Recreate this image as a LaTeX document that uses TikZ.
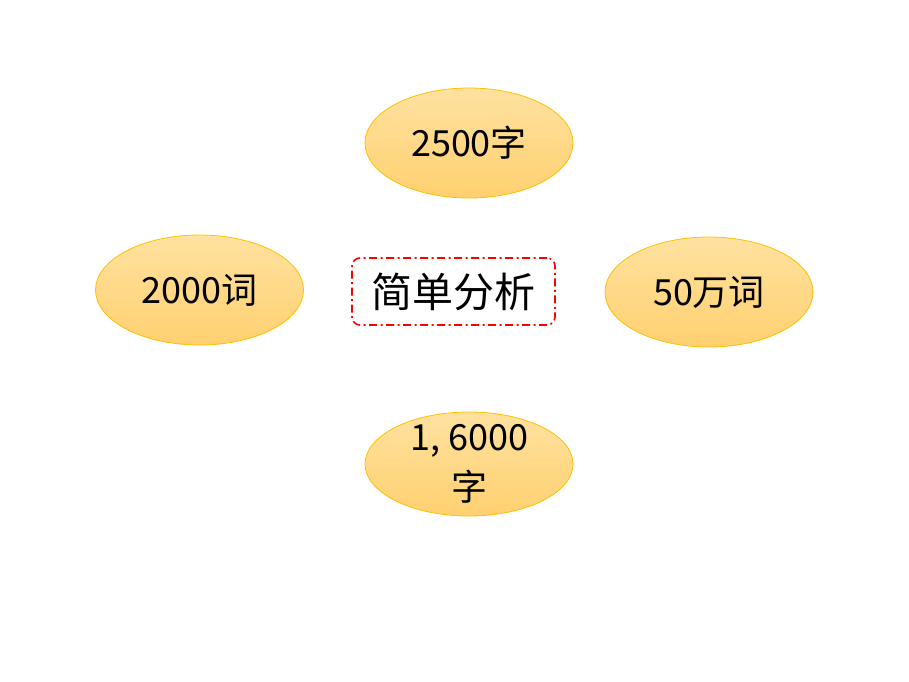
\documentclass[tikz,border=0pt]{standalone}
\usepackage{fontspec}
\setmainfont{Noto Sans CJK SC}
\usepackage{tikz}
\usetikzlibrary{shapes.geometric}
\definecolor{ellTop}{HTML}{FFE2A0}
\definecolor{ellBot}{HTML}{FFD070}
\definecolor{ellLine}{HTML}{FFC000}

\begin{document}
\begin{tikzpicture}[x=1pt,y=-1pt,
  ell/.style={ellipse, draw=ellLine, line width=0.8pt, top color=ellTop, bottom color=ellBot,
    minimum width=208pt, minimum height=110pt, inner sep=0pt, font=\fontsize{36}{50}\selectfont},
  centerbox/.style={draw=red, line width=1.6pt, rounded corners=8pt,
    dash pattern=on 8pt off 3.5pt on 2pt off 3.5pt, minimum width=203pt, minimum height=67pt,
    font=\fontsize{41}{46}\selectfont}]
          \useasboundingbox (0,0) rectangle (909,681);
          % analysis
          \node (center) [centerbox] at (453.5,291.5) {简单分析};
          % 2500 characters
          \node (top) [ell] at (469,143) {2500字};
          % 2000 words
          \node (left) [ell] at (199.5,290) {2000词};
          % 500000 words
          \node (right) [ell] at (709,292) {50万词};
          % 16000 characters
          \node (bottom) [ell, minimum height=104pt, inner sep=-12pt, align=center] at (469,464) {1, 6000\\字};
        \end{tikzpicture}
\end{document}
